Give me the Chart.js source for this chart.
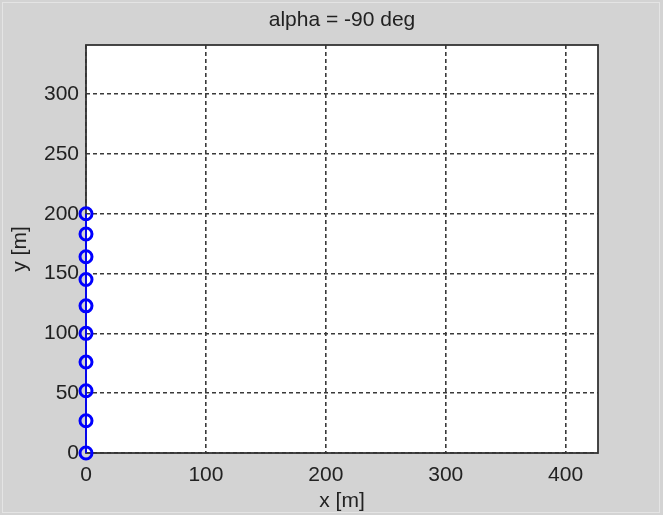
<!DOCTYPE html>
<html lang="en">
<head>
    <meta charset="UTF-8">
    <title>alpha = -90 deg</title>
    <script src="https://cdn.jsdelivr.net/npm/chart.js"></script>
    <style>
        html, body { margin: 0; padding: 0; background: #d3d3d3; }
        #wrap { width: 663px; height: 515px; }
    </style>
</head>
<body>
    <div id="wrap"><canvas id="grafico" width="663" height="515"></canvas></div>
    <script>
        // datos
        const xVals = [0, 0, 0, 0, 0, 0, 0, 0, 0, 0];
        const yVals = [0, 27, 52, 76, 100, 123, 145, 164, 183, 200];
        const xTicks = [0, 100, 200, 300, 400];
        const yTicks = [0, 50, 100, 150, 200, 250, 300];
        const titulo = 'alpha = -90 deg';
        const xLabel = 'x [m]';
        const yLabel = 'y [m]';

        const fuente = '"Liberation Sans", Arial, sans-serif';
        const colorTexto = '#222222';

        // fondo gris, area blanca, caja y textos
        const marco = {
            id: 'marco',
            beforeDraw(chart) {
                const { ctx, chartArea: a } = chart;
                ctx.save();
                ctx.fillStyle = '#d3d3d3';
                ctx.fillRect(0, 0, chart.width, chart.height);
                ctx.strokeStyle = '#e4e4e4';
                ctx.lineWidth = 1;
                ctx.strokeRect(2.5, 2.5, chart.width - 6, chart.height - 5);
                ctx.fillStyle = '#ffffff';
                ctx.fillRect(a.left, a.top, a.right - a.left, a.bottom - a.top);
                ctx.restore();
            },
            afterDatasetsDraw(chart) {
                const { ctx, chartArea: a } = chart;
                ctx.save();
                ctx.fillStyle = colorTexto;
                ctx.font = '21px ' + fuente;
                ctx.textAlign = 'center';
                ctx.textBaseline = 'middle';
                ctx.fillText(titulo, (a.left + a.right) / 2, 20);
                ctx.fillText(xLabel, (a.left + a.right) / 2, 501);
                ctx.translate(20, (a.top + a.bottom) / 2);
                ctx.rotate(-Math.PI / 2);
                ctx.fillText(yLabel, 0, 0);
                ctx.restore();
            },
            beforeDatasetsDraw(chart) {
                const { ctx, chartArea: a } = chart;
                ctx.save();
                ctx.strokeStyle = '#333333';
                ctx.lineWidth = 1.8;
                ctx.strokeRect(a.left, a.top, a.right - a.left, a.bottom - a.top);
                ctx.restore();
            }
        };

        new Chart(document.getElementById('grafico'), {
            type: 'scatter',
            data: {
                datasets: [{
                    data: xVals.map((x, i) => ({ x: x, y: yVals[i] })),
                    showLine: true,
                    borderColor: '#0000ff',
                    borderWidth: 1.8,
                    pointRadius: 6,
                    pointBorderWidth: 3,
                    pointBorderColor: '#0000ff',
                    pointBackgroundColor: 'rgba(0,0,0,0)',
                    clip: false
                }]
            },
            options: {
                responsive: false,
                animation: false,
                layout: { padding: { left: 0, top: 45, right: 65, bottom: 0 } },
                plugins: {
                    legend: { display: false },
                    tooltip: { enabled: false }
                },
                scales: {
                    x: {
                        type: 'linear',
                        min: 0,
                        max: 427,
                        afterBuildTicks: s => { s.ticks = xTicks.map(v => ({ value: v })); },
                        afterFit: s => { s.height = 62; },
                        grid: { color: '#3a3a3a', lineWidth: 1.6, drawTicks: false },
                        border: { display: false, dash: [4, 3] },
                        ticks: { color: colorTexto, padding: 10, font: { size: 21, family: fuente } }
                    },
                    y: {
                        type: 'linear',
                        min: 0,
                        max: 341,
                        afterBuildTicks: s => { s.ticks = yTicks.map(v => ({ value: v })); },
                        afterFit: s => { s.width = 86; },
                        grid: { color: '#3a3a3a', lineWidth: 1.6, drawTicks: false },
                        border: { display: false, dash: [4, 3] },
                        ticks: { color: colorTexto, padding: 7, font: { size: 21, family: fuente } }
                    }
                }
            },
            plugins: [marco]
        });
    </script>
</body>
</html>
